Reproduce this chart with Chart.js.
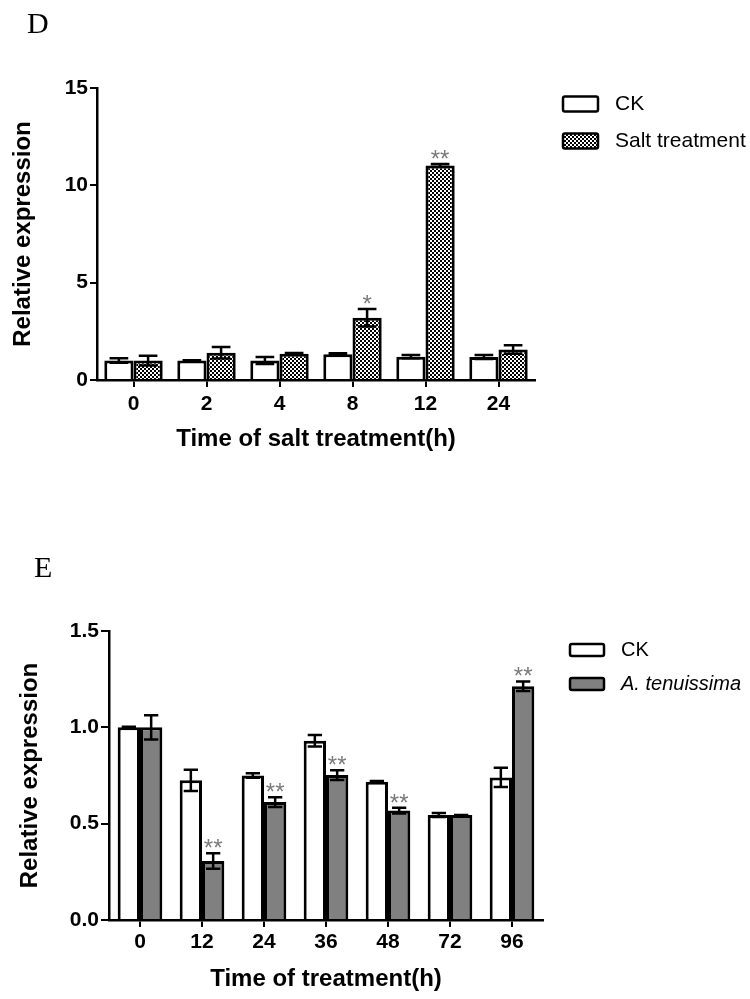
<!DOCTYPE html>
<html>
<head>
<meta charset="utf-8">
<script src="https://cdn.jsdelivr.net/npm/chart.js@4"></script>
<style>
  body { margin: 0; background: #fff; width: 750px; height: 999px; position: relative; overflow: hidden; }
  canvas { position: absolute; left: 0; }
  .panel { position: absolute; font-family: 'Liberation Serif', 'Times New Roman', serif; font-size: 30px; line-height: 30px; color: #000; }
</style>
</head>
<body>
<canvas id="chartD" width="750" height="455" style="top:0"></canvas>
<canvas id="chartE" width="750" height="499" style="top:500px"></canvas>
<div class="panel" style="left:27px;top:8px">D</div>
<div class="panel" style="left:34px;top:552px">E</div>
<script>
// panel D: salt treatment
const saltHours = ['0', '2', '4', '8', '12', '24'];
const ckSalt = [1.0, 1.0, 1.0, 1.32, 1.2, 1.18];
const ckSaltErr = [0.12, 0.02, 0.18, 0.06, 0.08, 0.1];
const salt = [1.0, 1.4, 1.35, 3.2, 11.02, 1.57];
const saltErr = [0.25, 0.3, 0.04, 0.45, 0.08, 0.22];
const saltStars = ['', '', '', '*', '**', ''];
const saltTicks = [0, 5, 10, 15];

// panel E: A. tenuissima treatment
const fungusHours = ['0', '12', '24', '36', '48', '72', '96'];
const ckFungus = [1.0, 0.725, 0.75, 0.93, 0.717, 0.545, 0.74];
const ckFungusErr = [0.003, 0.055, 0.012, 0.03, 0.005, 0.01, 0.05];
const fungus = [1.0, 0.306, 0.612, 0.752, 0.568, 0.545, 1.213];
const fungusErr = [0.063, 0.04, 0.025, 0.025, 0.015, 0, 0.025];
const fungusStars = ['', '**', '**', '**', '**', '', '**'];
const fungusTicks = [0, 0.5, 1.0, 1.5];

Chart.defaults.font.family = "'Liberation Sans', Arial, sans-serif";
Chart.defaults.color = '#000';

// fine black/white checker used for the salt bars
function checker() {
  const c = document.createElement('canvas');
  c.width = 4; c.height = 4;
  const g = c.getContext('2d');
  g.fillStyle = '#fff'; g.fillRect(0, 0, 4, 4);
  g.fillStyle = '#000'; g.fillRect(0, 0, 2, 2); g.fillRect(2, 2, 2, 2);
  return g.createPattern(c, 'repeat');
}

const errorBars = {
  id: 'errorBars',
  afterDatasetsDraw(chart) {
    const ctx = chart.ctx;
    const y = chart.scales.y;
    chart.data.datasets.forEach((ds, i) => {
      const meta = chart.getDatasetMeta(i);
      meta.data.forEach((bar, j) => {
        const v = ds.data[j], e = ds.errors[j];
        const top = y.getPixelForValue(v + e), bot = y.getPixelForValue(v - e);
        const cap = bar.width * 0.32;
        ctx.save();
        ctx.strokeStyle = '#000';
        ctx.lineWidth = 2.5;
        ctx.beginPath();
        ctx.moveTo(bar.x, top); ctx.lineTo(bar.x, bot);
        ctx.moveTo(bar.x - cap, top); ctx.lineTo(bar.x + cap, top);
        ctx.moveTo(bar.x - cap, bot); ctx.lineTo(bar.x + cap, bot);
        ctx.stroke();
        if (ds.stars && ds.stars[j]) {
          ctx.fillStyle = '#7a7a7a';
          ctx.font = "24px 'Liberation Sans', Arial";
          ctx.textAlign = 'center';
          ctx.textBaseline = 'alphabetic';
          ctx.fillText(ds.stars[j], bar.x, Math.min(top, y.getPixelForValue(v)) + 3);
        }
        ctx.restore();
      });
    });
  }
};

const sideLegend = {
  id: 'sideLegend',
  afterDraw(chart, args, opts) {
    const ctx = chart.ctx;
    chart.data.datasets.forEach((ds, i) => {
      const cy = opts.y + i * opts.gap;
      ctx.save();
      ctx.fillStyle = ds.backgroundColor;
      ctx.strokeStyle = '#000';
      ctx.lineWidth = 2.5;
      ctx.beginPath();
      ctx.roundRect(opts.x, cy - opts.h / 2, opts.w, opts.h, 2);
      ctx.fill();
      ctx.stroke();
      ctx.fillStyle = '#000';
      ctx.font = (ds.italic ? 'italic ' : '') + opts.size + "px 'Liberation Sans', Arial";
      ctx.textAlign = 'left';
      ctx.textBaseline = 'middle';
      ctx.fillText(ds.label, opts.x + opts.w + 17, cy);
      ctx.restore();
    });
  }
};

function makeChart(id, labels, sets, ticks, cfg) {
  return new Chart(document.getElementById(id), {
    type: 'bar',
    data: { labels: labels, datasets: sets },
    plugins: [errorBars, sideLegend],
    options: {
      responsive: false,
      animation: false,
      layout: { padding: { left: 0, top: cfg.top, right: cfg.right, bottom: 0 } },
      datasets: {
        bar: { categoryPercentage: cfg.catPct, barPercentage: 1.0, borderWidth: 3, borderColor: '#000', borderSkipped: 'start' }
      },
      scales: {
        x: {
          afterFit(s) { s.height = cfg.xHeight; },
          grid: { display: true, drawOnChartArea: false, offset: false, color: '#000', lineWidth: 2, tickLength: 7 },
          border: { color: '#000', width: 2.5 },
          ticks: { font: { size: 21, weight: 'bold' }, padding: cfg.xPad },
          title: { display: true, text: cfg.xTitle, font: { size: 24, weight: 'bold' }, padding: { top: 0, bottom: cfg.xTitlePad } }
        },
        y: {
          min: ticks[0], max: ticks[ticks.length - 1],
          afterFit(s) { s.width = cfg.left; },
          afterBuildTicks(s) { s.ticks = ticks.map(v => ({ value: v })); },
          grid: { display: true, drawOnChartArea: false, color: '#000', lineWidth: 2, tickLength: cfg.yTick },
          border: { color: '#000', width: 2.5 },
          ticks: { font: { size: 21, weight: 'bold' }, padding: 2, callback: cfg.fmt },
          title: { display: true, text: 'Relative expression', font: { size: 24, weight: 'bold' }, padding: { top: cfg.yTitlePad, bottom: 0 } }
        }
      },
      plugins: {
        legend: { display: false },
        tooltip: { enabled: false },
        sideLegend: cfg.legend
      }
    }
  });
}

makeChart('chartD', saltHours, [
  { label: 'CK', data: ckSalt, errors: ckSaltErr, backgroundColor: '#fff' },
  { label: 'Salt treatment', data: salt, errors: saltErr, stars: saltStars, backgroundColor: checker() }
], saltTicks, {
  top: 88, right: 215, left: 97, xHeight: 75, catPct: 0.8,
  xPad: 5, xTitlePad: 1, yTick: 7, yTitlePad: 9,
  xTitle: 'Time of salt treatment(h)',
  fmt: v => String(v),
  legend: { x: 563, y: 104, gap: 37, w: 35, h: 15, size: 21 }
});

makeChart('chartE', fungusHours, [
  { label: 'CK', data: ckFungus, errors: ckFungusErr, backgroundColor: '#fff' },
  { label: 'A. tenuissima', italic: true, data: fungus, errors: fungusErr, stars: fungusStars, backgroundColor: '#808080' }
], fungusTicks, {
  top: 131, right: 207, left: 109, xHeight: 79, catPct: 0.72,
  xPad: 3, xTitlePad: 5, yTick: 8, yTitlePad: 16,
  xTitle: 'Time of treatment(h)',
  fmt: v => Number(v).toFixed(1),
  legend: { x: 570, y: 150, gap: 34, w: 34, h: 12, size: 20 }
});
</script>
</body>
</html>
